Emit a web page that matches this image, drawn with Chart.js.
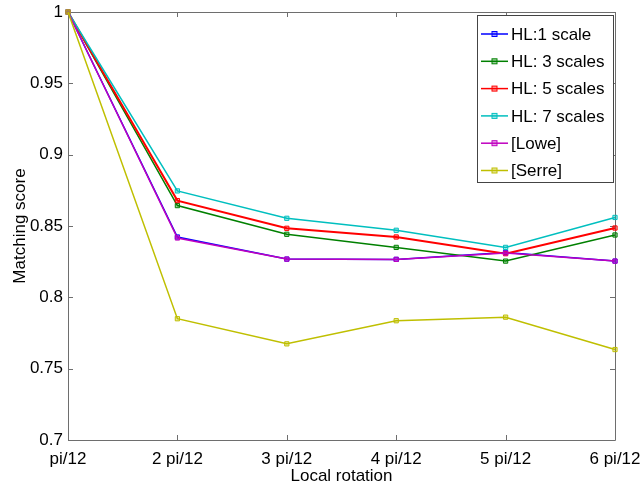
<!DOCTYPE html>
<html>
<head>
<meta charset="utf-8">
<script src="https://cdn.jsdelivr.net/npm/chart.js@4/dist/chart.umd.min.js"></script>
<style>
  html, body { margin: 0; padding: 0; background: #ffffff; }
  canvas { display: block; }
</style>
</head>
<body>
<canvas id="c" width="644" height="487"></canvas>
<script>
// Rotation steps on the x axis
const rotations = ["pi/12", "2 pi/12", "3 pi/12", "4 pi/12", "5 pi/12", "6 pi/12"];

// Matching score per method
const hl1Scale  = [1, 0.8423, 0.8268, 0.8266, 0.8315, 0.8254];
const hl3Scales = [1, 0.8643, 0.8442, 0.8350, 0.8254, 0.8437];
const hl5Scales = [1, 0.8678, 0.8484, 0.8423, 0.8306, 0.8486];
const hl7Scales = [1, 0.8746, 0.8554, 0.8470, 0.8350, 0.8560];
const lowe      = [1, 0.8416, 0.8268, 0.8266, 0.8310, 0.8254];
const serre     = [1, 0.7850, 0.7674, 0.7836, 0.7861, 0.7634];

const seriesNames = ["HL:1 scale", "HL: 3 scales", "HL: 5 scales", "HL: 7 scales", "[Lowe]", "[Serre]"];
const seriesData = [hl1Scale, hl3Scales, hl5Scales, hl7Scales, lowe, serre];
const seriesColors = ["#0000ff", "#008000", "#ff0000", "#00bfbf", "#bf00bf", "#bfbf00"];
const seriesWidths = [1.5, 1.5, 2, 1.5, 1.5, 1.5];

const FONT = "'Liberation Sans', Arial, Helvetica, sans-serif";
const FONT_SIZE = 17;
const AXIS_COLOR = "#6e6e6e";
const TICK_LEN = 5;

function hexAlpha(hex, a) {
  const n = parseInt(hex.slice(1), 16);
  return `rgba(${(n >> 16) & 255},${(n >> 8) & 255},${n & 255},${a})`;
}

const datasets = seriesNames.map((name, i) => ({
  label: name,
  data: seriesData[i],
  borderColor: seriesColors[i],
  borderWidth: seriesWidths[i],
  backgroundColor: seriesColors[i],
  pointStyle: "rect",
  pointRadius: 3,
  pointBorderWidth: 1,
  pointBorderColor: seriesColors[i],
  pointBackgroundColor: hexAlpha(seriesColors[i], 0.35),
  tension: 0,
  fill: false,
  clip: false,
  order: seriesNames.length - i
}));

// Boxed axes with inward tick marks on all four sides
const boxAxes = {
  id: "boxAxes",
  beforeDatasetsDraw(chart) {
    const { ctx, chartArea: a, scales } = chart;
    ctx.save();
    ctx.strokeStyle = AXIS_COLOR;
    ctx.lineWidth = 1;
    ctx.beginPath();
    ctx.rect(Math.round(a.left) + 0.5, Math.round(a.top) + 0.5,
             Math.round(a.right - a.left), Math.round(a.bottom - a.top));
    scales.x.ticks.forEach((t, i) => {
      const x = Math.round(scales.x.getPixelForTick(i)) + 0.5;
      ctx.moveTo(x, a.bottom); ctx.lineTo(x, a.bottom - TICK_LEN);
      ctx.moveTo(x, a.top); ctx.lineTo(x, a.top + TICK_LEN);
    });
    scales.y.ticks.forEach((t, i) => {
      const y = Math.round(scales.y.getPixelForTick(i)) + 0.5;
      ctx.moveTo(a.left, y); ctx.lineTo(a.left + TICK_LEN, y);
      ctx.moveTo(a.right, y); ctx.lineTo(a.right - TICK_LEN, y);
    });
    ctx.stroke();
    ctx.restore();
  }
};

// Legend box placed inside the upper right corner of the plot
const insideLegend = {
  id: "insideLegend",
  afterDraw(chart) {
    const { ctx } = chart;
    const box = { x: 477, y: 15, w: 136, h: 167 };
    const rowH = 27.3;
    ctx.save();
    ctx.fillStyle = "#ffffff";
    ctx.fillRect(box.x, box.y, box.w, box.h);
    ctx.strokeStyle = "#444444";
    ctx.lineWidth = 1;
    ctx.strokeRect(box.x + 0.5, box.y + 0.5, box.w, box.h);
    ctx.font = FONT_SIZE + "px " + FONT;
    ctx.textBaseline = "middle";
    ctx.textAlign = "left";
    chart.data.datasets.forEach((ds, i) => {
      const y = box.y + 19 + i * rowH;
      ctx.strokeStyle = ds.borderColor;
      ctx.lineWidth = 1.5;
      ctx.beginPath();
      ctx.moveTo(box.x + 4, y);
      ctx.lineTo(box.x + 31, y);
      ctx.stroke();
      ctx.fillStyle = ds.pointBackgroundColor;
      ctx.fillRect(box.x + 15, y - 2.5, 5, 5);
      ctx.lineWidth = 1;
      ctx.strokeRect(box.x + 15, y - 2.5, 5, 5);
      ctx.fillStyle = "#000000";
      ctx.fillText(ds.label, box.x + 34, y + 1);
    });
    ctx.restore();
  }
};

new Chart(document.getElementById("c"), {
  type: "line",
  data: { labels: rotations, datasets },
  options: {
    responsive: false,
    animation: false,
    layout: { padding: { top: 12, right: 29, left: 0, bottom: 0 } },
    plugins: {
      legend: { display: false },
      tooltip: { enabled: false }
    },
    scales: {
      x: {
        type: "category",
        offset: false,
        grid: { display: false, drawTicks: false, tickLength: 0 },
        border: { display: false },
        ticks: {
          color: "#000000",
          font: { family: FONT, size: FONT_SIZE },
          padding: 9,
          maxRotation: 0,
          autoSkip: false
        },
        title: {
          display: true,
          text: "Local rotation",
          color: "#000000",
          font: { family: FONT, size: FONT_SIZE },
          padding: { top: 0, bottom: 0 }
        },
        afterFit(scale) {
          scale.height = 47;
          // edge labels may hang past the plot box
          scale.paddingLeft = 0;
          scale.paddingRight = 0;
        }
      },
      y: {
        min: 0.7,
        max: 1.0,
        grid: { display: false, drawTicks: false, tickLength: 0 },
        border: { display: false },
        ticks: {
          stepSize: 0.05,
          color: "#000000",
          font: { family: FONT, size: FONT_SIZE },
          padding: 5,
          callback: (v) => String(Number(v.toFixed(2)))
        },
        title: {
          display: true,
          text: "Matching score",
          color: "#000000",
          font: { family: FONT, size: FONT_SIZE },
          padding: { top: 10, bottom: 0 }
        },
        afterFit(scale) {
          scale.width = 68;
          scale.paddingTop = 0;
          scale.paddingBottom = 0;
        }
      }
    }
  },
  plugins: [boxAxes, insideLegend]
});
</script>
</body>
</html>
